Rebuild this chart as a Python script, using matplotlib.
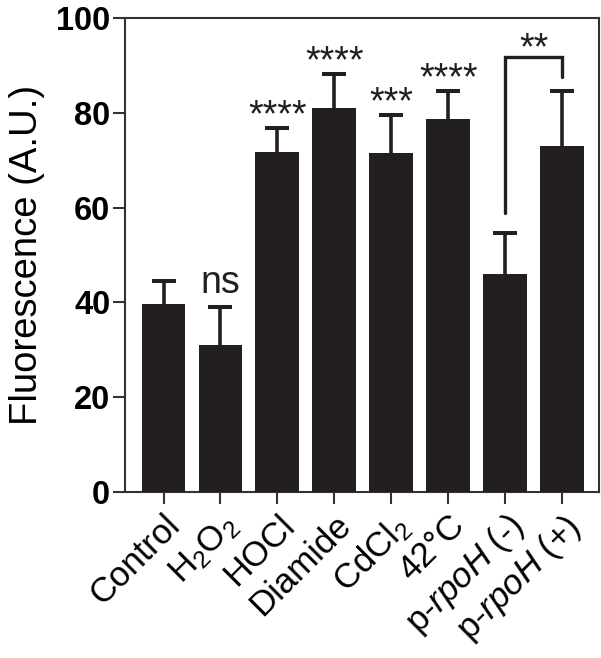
import matplotlib
matplotlib.use("Agg")
import matplotlib.pyplot as plt
import matplotlib.transforms as mtransforms
import numpy as np

# values
labels = ["Control", r"H$_2$O$_2$", "HOCl", "Diamide", r"CdCl$_2$", "42°C",
          r"p-$\mathit{rpoH}$ (-)", r"p-$\mathit{rpoH}$ (+)"]
means = [39.7, 31.0, 71.7, 81.0, 71.5, 78.7, 46.0, 73.0]
sems = [4.8, 8.0, 5.1, 7.2, 8.0, 5.9, 8.6, 11.6]
sig = ["", "ns", "****", "****", "***", "****", "", ""]
pair_sig = "**"
y_ticks = [0, 20, 40, 60, 80, 100]

plt.rcParams["font.family"] = ["Liberation Sans", "DejaVu Sans"]
plt.rcParams["mathtext.fontset"] = "custom"
plt.rcParams["mathtext.rm"] = "Liberation Sans"
plt.rcParams["mathtext.it"] = "Liberation Sans:italic"
plt.rcParams["mathtext.bf"] = "Liberation Sans:bold"

bar_color = "#231f20"

fig = plt.figure(figsize=(6.01, 6.58), dpi=100)
ax = fig.add_axes([0.208, 0.2523, 0.7887, 0.7203])

x = np.arange(len(means))
ax.bar(x, means, width=0.77, color=bar_color, zorder=3)
# upper error bars only
_, caps, _ = ax.errorbar(x, means, yerr=[np.zeros(len(sems)), sems], fmt="none",
                         ecolor=bar_color, elinewidth=2.6, capsize=8.3,
                         capthick=2.9, zorder=2)
caps[0].set_visible(False)

tops = np.array(means) + np.array(sems)
for xi, top, s in zip(x, tops, sig):
    if not s:
        continue
    off = 3.0 if s == "ns" else 0.3
    ax.text(xi, top + off, s, ha="center", va="baseline", fontsize=27, color=bar_color)

# comparison bracket between the two p-rpoH bars
br_top = 91.8
ax.plot([6, 6, 7, 7], [tops[6] + 4.3, br_top, br_top, tops[7] + 3.0],
        color=bar_color, lw=2.4, solid_capstyle="round", solid_joinstyle="miter",
        clip_on=False, zorder=4)
ax.text(6.5, br_top - 0.6, pair_sig, ha="center", va="baseline", fontsize=27, color=bar_color)

ax.set_xlim(-0.677, 7.65)
ax.set_ylim(0, 100)
ax.set_yticks(y_ticks)
ax.set_xticks(x)
ax.set_xticklabels(labels, rotation=45, ha="right", va="top",
                   rotation_mode="anchor", fontsize=25)
offset = mtransforms.ScaledTranslation(16 / 100, -26 / 100, fig.dpi_scale_trans)
for lab in ax.get_xticklabels():
    lab.set_transform(lab.get_transform() + offset)

for lab in ax.get_yticklabels():
    lab.set_fontweight("bold")
    lab.set_fontsize(23.5)

ax.set_ylabel("Fluorescence (A.U.)", fontsize=27.5, labelpad=8)

for sp in ax.spines.values():
    sp.set_linewidth(1.5)
    sp.set_color("#333333")
ax.tick_params(axis="both", direction="out", length=8.6, width=1.5, color="#333333")
ax.tick_params(axis="y", pad=2)

fig.savefig("out.png", dpi=100)
